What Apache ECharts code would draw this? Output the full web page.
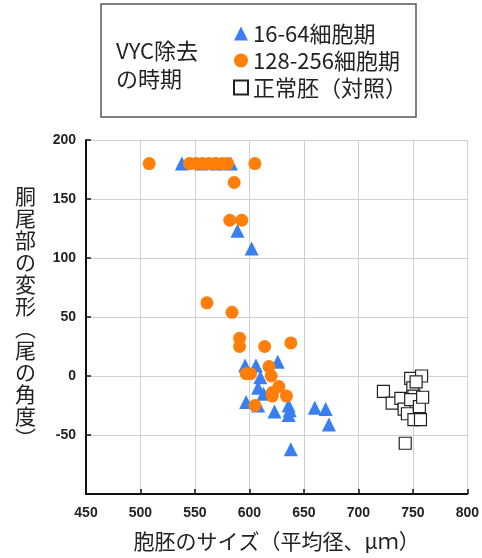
<!DOCTYPE html>
<html>
<head>
<meta charset="utf-8">
<script src="https://cdn.jsdelivr.net/npm/echarts@6/dist/echarts.min.js"></script>
<style>
  html, body { margin: 0; padding: 0; background: #fff; }
  #chart { width: 482px; height: 558px; }
</style>
</head>
<body>
<div id="chart"></div>
<script>
// data: [size um, tail angle]
const early = [
  [538, 180], [556, 180], [570, 180], [583, 180],
  [589, 123], [602, 108],
  [596, 9], [606, 9], [626, 12], [610, -1], [608, -10], [613, -15],
  [597, -22], [608, -25], [623, -30], [636, -25], [637, -29], [636, -33],
  [660, -27], [670, -28], [673, -41], [638, -62]
];
const late = [
  [508, 180], [545, 180], [551, 180], [557, 180], [563, 180], [569, 180],
  [575, 180], [580, 180], [605, 180], [586, 164],
  [582, 132], [593, 132], [561, 62], [584, 54],
  [591, 32], [591, 25], [614, 25], [638, 28],
  [618, 8], [597, 2], [601, 2], [620, 0], [627, -9], [621, -14],
  [621, -17], [634, -17], [605, -25]
];
const control = [
  [723, -13], [731, -23], [739, -19], [742, -28], [745, -32], [743, -57],
  [748, -2], [750, -10], [751, -17], [748, -20], [751, -37], [756, -26],
  [757, -37], [758, 0], [759, -18], [753, -5]
];
const names = ['16-64細胞期', '128-256細胞期', '正常胚（対照）'];
const yTitle = ['胴', '尾', '部', 'の', '変', '形', '︵', '尾', 'の', '角', '度', '︶'];

const jp = '"Noto Sans CJK JP", sans-serif';
const numFont = '"Liberation Sans", Arial, sans-serif';

const chart = echarts.init(document.getElementById('chart'));
const option = {
  animation: false,
  grid: { left: 86, right: 13, top: 140, bottom: 64 },
  legend: {
    orient: 'vertical',
    left: 228,
    top: 17,
    itemGap: 4,
    itemWidth: 14,
    itemHeight: 14,
    data: names,
    textStyle: { fontFamily: jp, fontSize: 22, color: '#222', lineHeight: 23 }
  },
  graphic: [
    {
      type: 'rect',
      shape: { x: 101, y: 4, width: 315, height: 113 },
      style: { fill: 'none', stroke: '#555', lineWidth: 1.5 }
    },
    {
      type: 'text',
      left: 116,
      top: 37,
      style: {
        text: 'VYC除去\nの時期',
        font: '22px "Noto Sans CJK JP", sans-serif',
        fill: '#222',
        lineHeight: 28
      }
    }
  ],
  xAxis: {
    type: 'value',
    min: 450, max: 800, interval: 50,
    name: '胞胚のサイズ（平均径、μｍ）',
    nameLocation: 'middle',
    nameGap: 37,
    nameTextStyle: { fontFamily: jp, fontSize: 21, color: '#222' },
    axisLine: { show: true, onZero: false, lineStyle: { color: '#111', width: 2 } },
    axisTick: { show: true, inside: true, length: 5, lineStyle: { color: '#111', width: 1.5 } },
    axisLabel: { fontFamily: numFont, fontWeight: 'bold', fontSize: 14, color: '#222', margin: 12 },
    splitLine: { show: true, lineStyle: { color: '#d0d0d0', width: 1 } }
  },
  yAxis: {
    type: 'value',
    min: -100, max: 200, interval: 50,
    name: yTitle.join('\n'),
    nameLocation: 'middle',
    nameRotate: 0,
    nameGap: 50,
    nameTextStyle: { fontFamily: jp, fontSize: 21, color: '#222', lineHeight: 22 },
    axisLine: { show: true, onZero: false, lineStyle: { color: '#111', width: 2 } },
    axisTick: { show: true, inside: true, length: 5, lineStyle: { color: '#111', width: 1.5 } },
    axisLabel: {
      fontFamily: numFont, fontWeight: 'bold', fontSize: 14, color: '#222', margin: 10,
      formatter: function (v) { return v === -100 ? '' : v; }
    },
    splitLine: { show: true, lineStyle: { color: '#d0d0d0', width: 1 } }
  },
  series: [
    {
      name: names[2], type: 'scatter', data: control,
      symbol: 'rect', symbolSize: 12,
      itemStyle: { color: '#fff', borderColor: '#222', borderWidth: 1.2, opacity: 1 }
    },
    {
      name: names[0], type: 'scatter', data: early,
      symbol: 'triangle', symbolSize: 14,
      itemStyle: { color: '#3a7ff0', opacity: 1 }
    },
    {
      name: names[1], type: 'scatter', data: late,
      symbol: 'circle', symbolSize: 13,
      itemStyle: { color: '#ff7f0a', opacity: 1 }
    }
  ]
};
chart.setOption(option);
</script>
</body>
</html>
